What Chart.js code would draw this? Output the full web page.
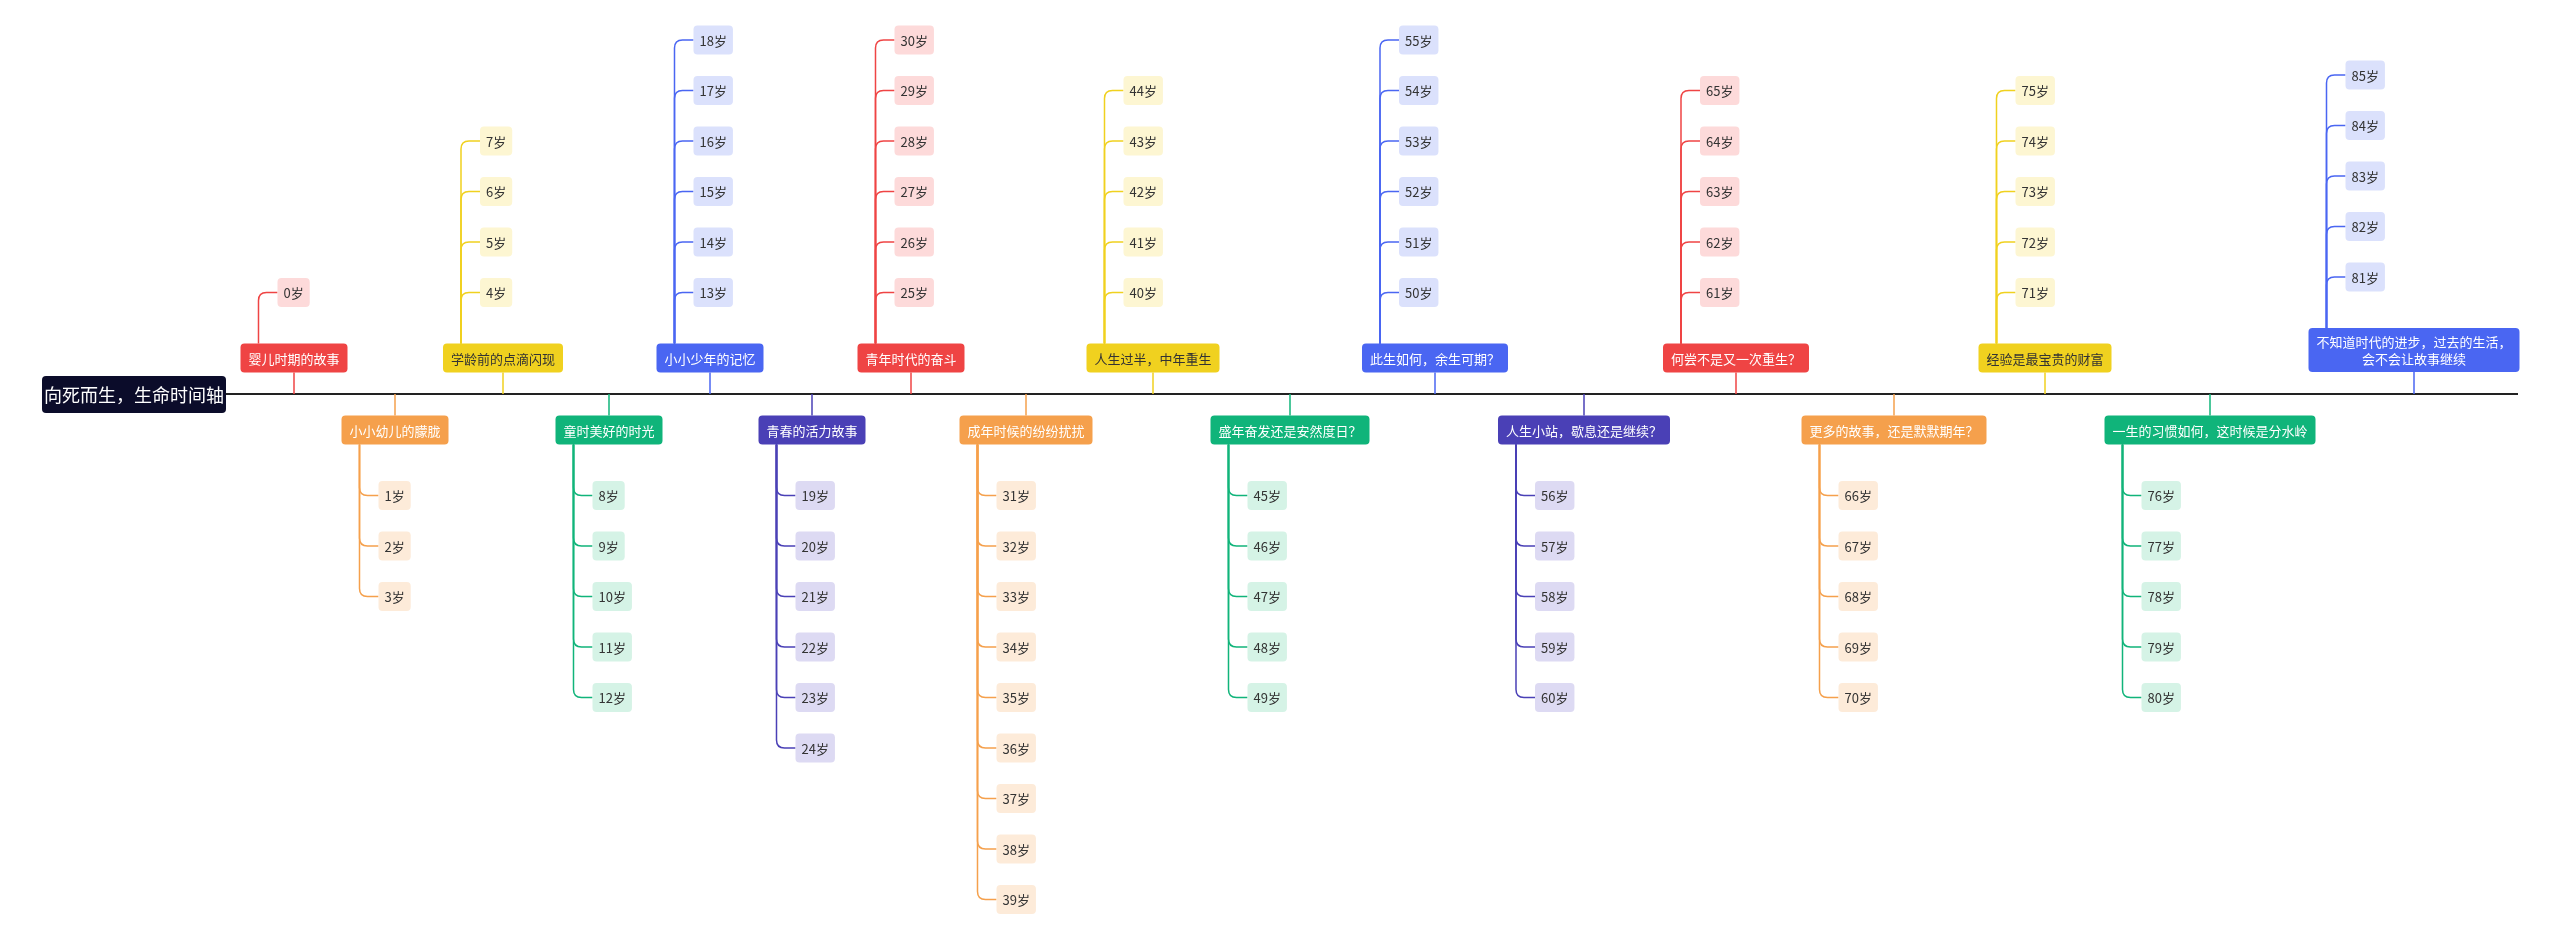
<!DOCTYPE html>
<html><head><meta charset="utf-8">
<script src="https://cdn.jsdelivr.net/npm/chart.js@4"></script>
<style>html,body{margin:0;padding:0;background:#fff}#w{width:2560px;height:940px}</style>
</head><body><div id="w"><canvas id="c"></canvas></div>
<script>
const rootTitle = "向死而生，生命时间轴";
const topics = ["婴儿时期的故事","小小幼儿的朦胧","学龄前的点滴闪现","童时美好的时光","小小少年的记忆","青春的活力故事","青年时代的奋斗","成年时候的纷纷扰扰","人生过半，中年重生","盛年奋发还是安然度日？","此生如何，余生可期？","人生小站，歇息还是继续？","何尝不是又一次重生？","更多的故事，还是默默期年？","经验是最宝贵的财富","一生的习惯如何，这时候是分水岭","不知道时代的进步，过去的生活，\n会不会让故事继续"];
const ageStart = [0,1,4,8,13,19,25,31,40,45,50,56,61,66,71,76,81];
const ageEnd   = [0,3,7,12,18,24,30,39,44,49,55,60,65,70,75,80,85];
const ageSuffix = "岁";
// layout (not data)
const topicCenterX = [294,395,503,609,710,812,911,1026,1153,1290,1435,1584,1736,1894,2045,2210,2414];
const palette = ["#ef4444","#f5a04c","#f0d11f","#10b47a","#4a66f2","#4a40b6"];
const lightPal = ["#fddada","#fdebd9","#fdf6d2","#d5f3e6","#dbe1fc","#dddaf3"];

const pts = topics.map((t,i)=>({x:topicCenterX[i], y: i%2===0?358:430}));
const MAINY=394;
const plugin={id:'mm',afterDatasetsDraw(chart){
  const ctx=chart.ctx, X=chart.scales.x, Y=chart.scales.y;
  const F='"Noto Sans CJK SC","Noto Sans",sans-serif';
  const my=Y.getPixelForValue(MAINY);
  ctx.save();
  // main line
  ctx.strokeStyle='#222';ctx.lineWidth=2;
  ctx.beginPath();ctx.moveTo(X.getPixelForValue(224),my);ctx.lineTo(X.getPixelForValue(2518),my);ctx.stroke();
  // root
  ctx.fillStyle='#0b0c2a';ctx.beginPath();ctx.roundRect(X.getPixelForValue(42),Y.getPixelForValue(376),184,37,4);ctx.fill();
  ctx.fillStyle='#fff';ctx.font='18px '+F;ctx.textAlign='center';ctx.textBaseline='middle';
  ctx.fillText(rootTitle,X.getPixelForValue(134),Y.getPixelForValue(395));
  topics.forEach((t,i)=>{
    const c=palette[i%6],lc=lightPal[i%6];
    const lines=t.split('\n');
    ctx.font='13px '+F;
    const w=Math.max(...lines.map(l=>ctx.measureText(l).width))+16;
    const h=lines.length>1?44:29;
    const cx=X.getPixelForValue(pts[i].x);
    const top=i%2===0;
    const cy=top?(lines.length>1?Y.getPixelForValue(350):Y.getPixelForValue(pts[i].y)):Y.getPixelForValue(pts[i].y);
    const bx=cx-w/2, by=cy-h/2;
    ctx.strokeStyle=c;ctx.lineWidth=1.5;
    ctx.beginPath();
    if(top){ctx.moveTo(cx,by+h);ctx.lineTo(cx,my);}else{ctx.moveTo(cx,my);ctx.lineTo(cx,by);}
    ctx.stroke();
    // children
    const vx=bx+18;
    const n=ageEnd[i]-ageStart[i]+1;
    const start= top?(by-51):(by+h+51);
    let last=null;
    for(let k=0;k<n;k++){
      const a=ageStart[i]+k;
      const ccy= top?start-k*50.5:start+k*50.5;
      const label=a+ageSuffix;
      const cw=ctx.measureText(label).width+12;
      const chx=bx+37;
      ctx.strokeStyle=c;
      ctx.beginPath();
      const r=8;
      if(top){ctx.moveTo(vx,by);ctx.lineTo(vx,ccy+r);ctx.quadraticCurveTo(vx,ccy,vx+r,ccy);}
      else{ctx.moveTo(vx,by+h);ctx.lineTo(vx,ccy-r);ctx.quadraticCurveTo(vx,ccy,vx+r,ccy);}
      ctx.lineTo(chx,ccy);ctx.stroke();
      ctx.fillStyle=lc;ctx.beginPath();ctx.roundRect(chx,ccy-14.5,cw,29,4);ctx.fill();
      ctx.fillStyle='#333';ctx.textAlign='center';
      ctx.fillText(label,chx+cw/2,ccy+1);
    }
    ctx.fillStyle=c;ctx.beginPath();ctx.roundRect(bx,by,w,h,4);ctx.fill();
    ctx.fillStyle=(i%6===2)?'#333':'#fff';ctx.textAlign='center';
    lines.forEach((l,j)=>ctx.fillText(l,cx,cy+1+(j-(lines.length-1)/2)*17));
  });
  ctx.restore();
}};
new Chart(document.getElementById('c'),{type:'scatter',
 data:{datasets:[{data:pts,pointRadius:0}]},
 options:{responsive:true,maintainAspectRatio:false,animation:false,
  layout:{padding:0},
  plugins:{legend:{display:false},tooltip:{enabled:false}},
  scales:{x:{display:false,min:0,max:2560},y:{display:false,min:0,max:940,reverse:true}}},
 plugins:[plugin]});
</script></body></html>
